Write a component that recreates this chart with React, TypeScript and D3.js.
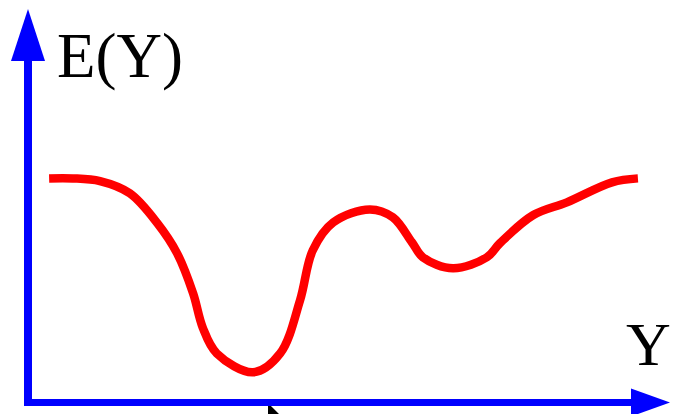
import React from "react";
import * as d3 from "d3";

// Sketch of an expectation curve E(Y) over Y (no ticks, conceptual axes)
const xValues = [3.3, 7.0, 11.25, 15.9, 20.2, 23.3, 25.8, 27.3, 29.5, 35.2, 39.4, 42.5, 44.5, 47.7, 53.4, 57.0, 60.0, 61.7, 66.4, 71.7, 73.75, 78.9, 84.2, 91.25, 95.3];
const yValues = [57.1, 57.1, 56.4, 53.3, 45.7, 38.0, 27.8, 19.1, 12.5, 7.7, 12.5, 26.0, 38.8, 45.9, 49.2, 47.2, 40.8, 37.0, 34.2, 37.0, 40.6, 47.7, 51.0, 56.1, 57.1];
const axisLabels = ["E(Y)", "Y"];

const W = 673;
const H = 414;

export default function App() {
  const x = d3.scaleLinear().domain([0, 100]).range([28, 668]);
  const y = d3.scaleLinear().domain([0, 100]).range([402.5, 10]);

  const pts: [number, number][] = xValues.map((v, i) => [x(v), y(yValues[i])]);
  const line = d3
    .line<[number, number]>()
    .x((d) => d[0])
    .y((d) => d[1])
    .curve(d3.curveCatmullRom.alpha(0.5));

  const x0 = x(0);
  const y0 = y(0);
  const blue = "#0000ff";

  return (
    <svg
      width={W}
      height={H}
      style={{ position: "fixed", left: 0, top: 0, display: "block", background: "#fff" }}
    >
      {/* pointer glyph below the horizontal axis */}
      <path
        d={`M268,403 L268,424 L273,419 L277,428 L280,427 L276,418 L283,418 Z`}
        fill="#000"
      />
      {/* vertical axis with arrowhead */}
      <rect x={x0 - 4} y={60} width={8} height={y0 + 3.5 - 60} fill={blue} />
      <path d={`M${x0},9 L${x0 - 17},61 L${x0 + 17},61 Z`} fill={blue} />
      {/* horizontal axis with arrowhead */}
      <rect x={x0 - 4} y={y0 - 3.5} width={632 - (x0 - 4)} height={7} fill={blue} />
      <path d={`M670,${y0} L631,${y0 - 14} L631,${y0 + 14} Z`} fill={blue} />
      {/* curve */}
      <path
        d={line(pts) || ""}
        fill="none"
        stroke="#ff0000"
        strokeWidth={8.5}
        strokeLinejoin="round"
      />
      <text
        x={57}
        y={77}
        fontFamily="'Liberation Serif', 'Times New Roman', serif"
        fontSize={63}
        fill="#000"
      >
        {axisLabels[0]}
      </text>
      <text
        x={626}
        y={365}
        fontFamily="'Liberation Serif', 'Times New Roman', serif"
        fontSize={62}
        fill="#000"
      >
        {axisLabels[1]}
      </text>
    </svg>
  );
}
